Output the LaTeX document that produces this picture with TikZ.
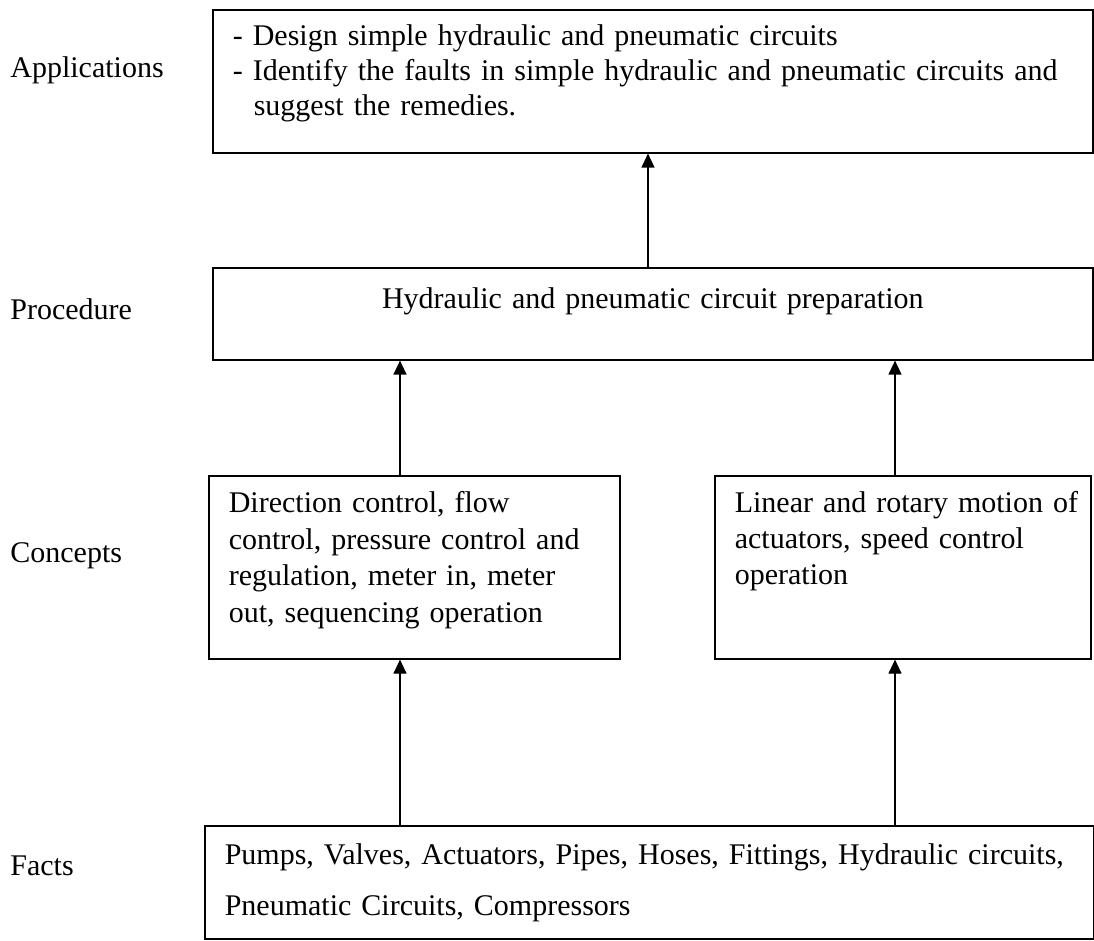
\documentclass[tikz,border=0pt]{standalone}
\usepackage{fontspec}
\setmainfont{Liberation Serif}
\usepackage{tikz}
\usetikzlibrary{arrows.meta,positioning,calc}

\begin{document}
\begin{tikzpicture}[x=0.5pt, y=-0.5pt,
            >={Triangle[length=7pt,width=6.5pt]},
            box/.style={draw, rectangle, line width=0.8pt, anchor=north west,
                 inner xsep=10pt, inner ysep=0pt, align=left,
                 font=\fontsize{15}{17.5}\selectfont},
            rowlabel/.style={anchor=base west, inner sep=0pt,
                 font=\fontsize{15}{18}\selectfont},
            link/.style={->, line width=0.6pt}
            ]
            \useasboundingbox (0,0) rectangle (1094,941);

            % Row labels
            \node[rowlabel] (lapp) at (10,78) {Applications};
            \node[rowlabel] (lproc) at (10,320) {Procedure};
            \node[rowlabel] (lcon) at (10,563) {Concepts};
            \node[rowlabel] (lfact) at (10,875) {Facts};

            % Boxes with manual coordinates
            \node[box, text width=420pt, text height=18pt, text depth=53.5pt] (app) at (212,9)
                {- Design simple hydraulic and pneumatic circuits\\
                 - Identify the faults in simple hydraulic and pneumatic circuits and\\
                 \hspace*{10.5pt}suggest the remedies.};
            \node[box, align=center, text width=420pt, text height=20.5pt, text depth=25.5pt] (proc) at (212,267)
                {Hydraulic and pneumatic circuit preparation};
            \node[box, text width=185.5pt, text height=18.5pt, text depth=73pt,
                  font=\fontsize{15}{18.25}\selectfont] (conl) at (208,475)
                {Direction control, flow\\
                 control, pressure control and\\
                 regulation, meter in, meter\\
                 out, sequencing operation};
            \node[box, text width=168pt, text height=18.5pt, text depth=73pt,
                  font=\fontsize{15}{18}\selectfont] (conr) at (714,475)
                {\makebox[168pt][l]{Linear and rotary motion of}\\
                 actuators, speed control\\
                 operation};
            \node[box, text width=424.5pt, text height=19.5pt, text depth=37pt,
                  font=\fontsize{15}{25.5}\selectfont] (fact) at (204,825)
                {Pumps, Valves, Actuators, Pipes, Hoses, Fittings, Hydraulic circuits,\\
                 Pneumatic Circuits, Compressors};

            % Arrow positions
            \coordinate (xl) at (400,0);
            \coordinate (xr) at (895,0);
            \coordinate (xm) at (648,0);

            % Arrows
            \draw[link] (xm |- proc.north) -- (xm |- app.south);
            \draw[link] (xl |- conl.north) -- (xl |- proc.south);
            \draw[link] (xr |- conr.north) -- (xr |- proc.south);
            \draw[link] (xl |- fact.north) -- (xl |- conl.south);
            \draw[link] (xr |- fact.north) -- (xr |- conr.south);
        \end{tikzpicture}
\end{document}
